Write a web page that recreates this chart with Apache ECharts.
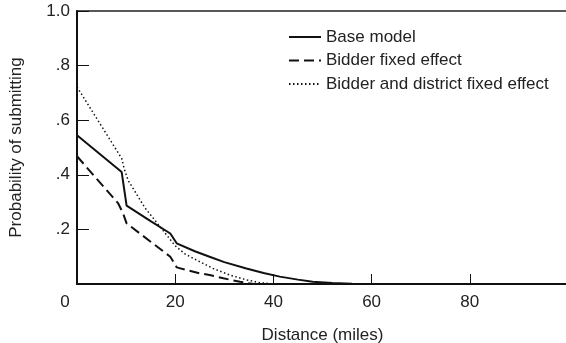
<!DOCTYPE html>
<html>
<head>
<meta charset="utf-8">
<script src="https://cdn.jsdelivr.net/npm/echarts@6/dist/echarts.min.js"></script>
<style>
html,body{margin:0;padding:0;background:#fff;}
#chart{width:566px;height:343px;}
</style>
</head>
<body>
<div id="chart"></div>
<script>
const seriesNames = ['Base model', 'Bidder fixed effect', 'Bidder and district fixed effect'];
const xTicks = [0, 20, 40, 60, 80];
const yTickLabels = {1: '1.0', 0.8: '.8', 0.6: '.6', 0.4: '.4', 0.2: '.2'};

const baseDist = [0, 9.1, 10.1, 15, 19, 20.3, 24, 27, 30, 34.5, 38, 41.3, 45, 48, 52, 56, 60];
const baseProb = [0.545, 0.41, 0.287, 0.23, 0.185, 0.149, 0.12, 0.1, 0.08, 0.057, 0.04, 0.027, 0.016, 0.008, 0.004, 0.001, 0];

const bidderDist = [0, 8.4, 9.4, 10.1, 15, 19, 20.3, 25, 27, 29.8, 33.2, 36];
const bidderProb = [0.468, 0.295, 0.258, 0.222, 0.155, 0.1, 0.061, 0.039, 0.033, 0.021, 0.008, 0];

const districtDist = [0, 9.1, 9.6, 10.4, 12.1, 13.8, 16.9, 20, 22, 24.3, 27.7, 31.1, 34.5, 37.2, 40];
const districtProb = [0.722, 0.46, 0.423, 0.38, 0.33, 0.28, 0.21, 0.14, 0.11, 0.088, 0.057, 0.033, 0.015, 0.005, 0];

function pairs(xs, ys) { return xs.map((x, i) => [x, ys[i]]); }

const FONT = '"Liberation Sans", Arial, Helvetica, sans-serif';
const FS = 17;
const TXT = '#222';
const LINE = '#111';

const chart = echarts.init(document.getElementById('chart'), null, {renderer: 'canvas'});
chart.setOption({
  backgroundColor: '#fff',
  animation: false,
  textStyle: {fontFamily: FONT, color: TXT},
  grid: {left: 77, right: -2, top: 11, bottom: 59, outerBoundsMode: 'none', containLabel: false,
         show: true, borderColor: '#222', borderWidth: 1.5, backgroundColor: 'transparent'},
  legend: {
    orient: 'vertical', left: 288, top: 28.5, padding: 0,
    itemWidth: 32, itemHeight: 16, itemGap: 6.5,
    itemStyle: {color: 'rgba(0,0,0,0)', borderColor: 'rgba(0,0,0,0)', borderWidth: 0, opacity: 0},
    textStyle: {fontFamily: FONT, fontSize: FS, color: TXT},
    data: seriesNames
  },
  xAxis: {
    type: 'value', min: 0, max: 100, interval: 20,
    name: 'Distance (miles)', nameLocation: 'middle', nameGap: 43,
    nameTextStyle: {fontFamily: FONT, fontSize: FS, color: TXT},
    axisLine: {show: true, lineStyle: {color: LINE, width: 2}},
    axisTick: {show: true, inside: true, length: 10, lineStyle: {color: LINE, width: 1}},
    splitLine: {show: false},
    axisLabel: {
      margin: 10, fontFamily: FONT, fontSize: FS, color: TXT,
      formatter: v => v === 0 ? '{z|0}' : (xTicks.indexOf(v) >= 0 ? String(v) : ''),
      rich: {z: {padding: [0, 24, 0, 0], fontFamily: FONT, fontSize: FS, color: TXT}}
    }
  },
  yAxis: {
    type: 'value', min: 0, max: 1, interval: 0.2,
    name: 'Probability of submitting', nameLocation: 'middle', nameGap: 52,
    nameTextStyle: {fontFamily: FONT, fontSize: FS, color: TXT},
    axisLine: {show: true, lineStyle: {color: LINE, width: 2}},
    axisTick: {show: true, inside: true, length: 12, lineStyle: {color: LINE, width: 1}},
    splitLine: {show: false},
    axisLabel: {
      margin: 7, fontFamily: FONT, fontSize: FS, color: TXT, padding: [8, 0, 0, 0],
      formatter: v => yTickLabels[Math.round(v * 10) / 10] || ''
    }
  },
  series: [
    {name: seriesNames[0], type: 'line', symbol: 'none', smooth: false,
     data: pairs(baseDist, baseProb), lineStyle: {color: LINE, width: 2, type: 'solid'}, itemStyle: {color: LINE}},
    {name: seriesNames[1], type: 'line', symbol: 'none', smooth: false,
     data: pairs(bidderDist, bidderProb), lineStyle: {color: LINE, width: 2, type: [10, 5]}, itemStyle: {color: LINE}},
    {name: seriesNames[2], type: 'line', symbol: 'none', smooth: false,
     data: pairs(districtDist, districtProb), lineStyle: {color: LINE, width: 1.5, type: [1.5, 2.5]}, itemStyle: {color: LINE}}
  ]
});
</script>
</body>
</html>
